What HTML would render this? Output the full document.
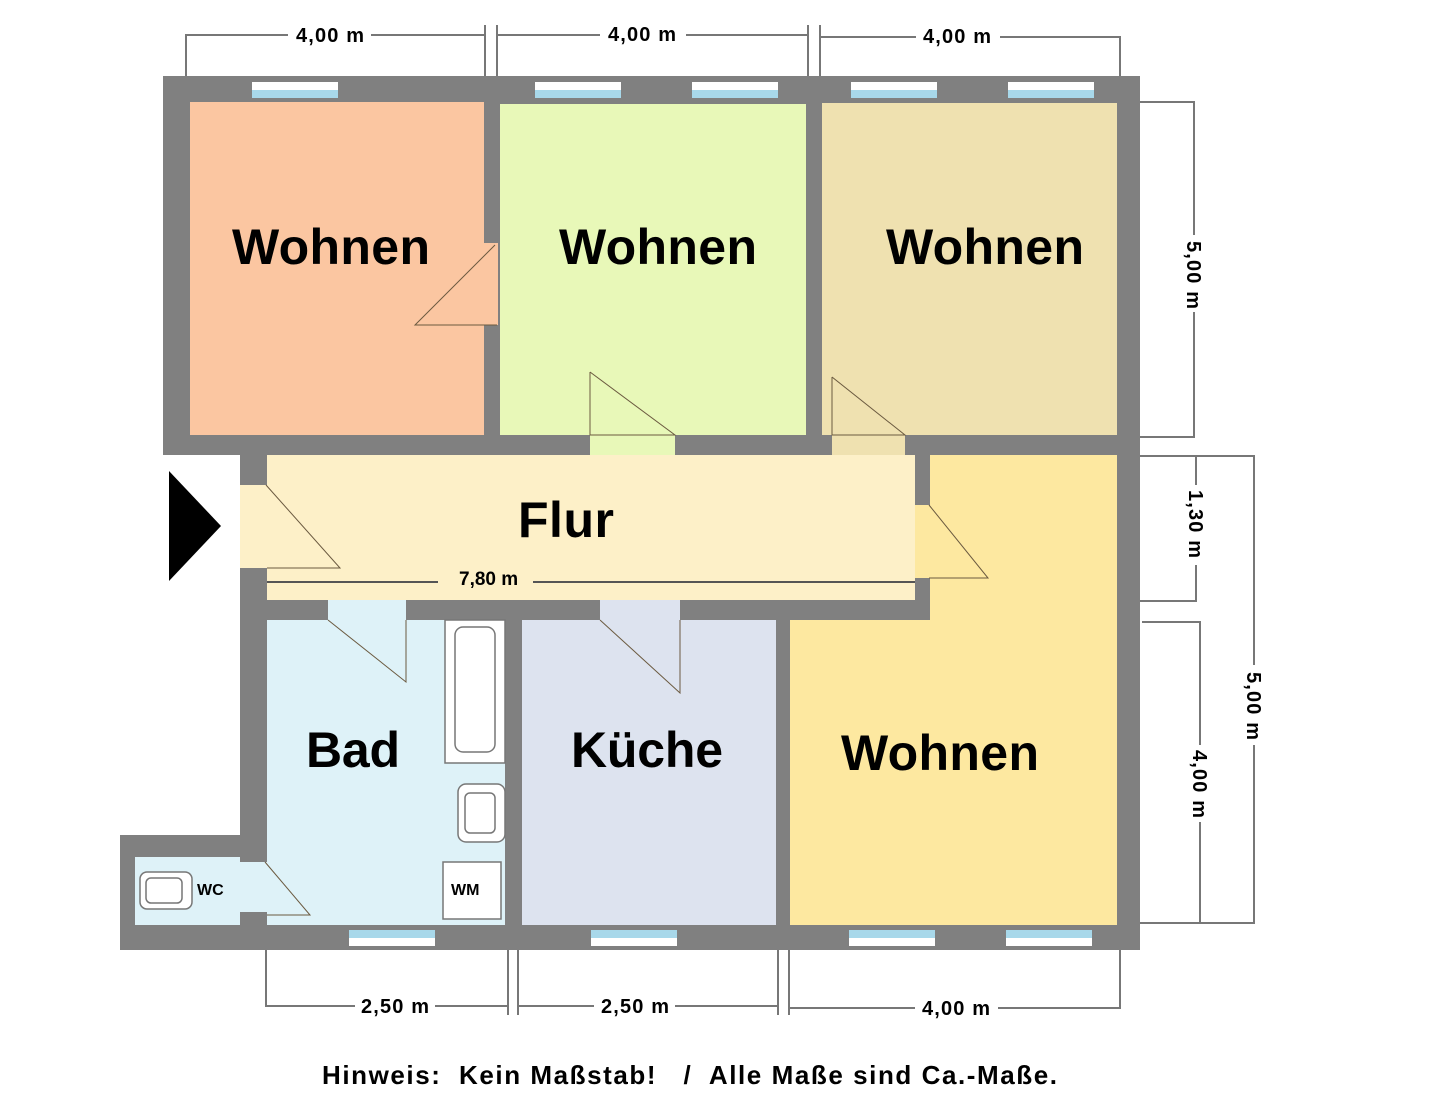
<!DOCTYPE html>
<html><head><meta charset="utf-8"><style>
html,body{margin:0;padding:0;background:#fff;}
svg{display:block;}
text{font-family:"Liberation Sans",Arial,sans-serif;font-weight:bold;fill:#000;}
</style></head><body>
<svg width="1440" height="1113" viewBox="0 0 1440 1113" xmlns="http://www.w3.org/2000/svg">
<g fill="#808080">
<rect x="163" y="76" width="977" height="379"/>
<rect x="240" y="455" width="27" height="30"/>
<rect x="240" y="568" width="700" height="52"/>
<rect x="240" y="568" width="27" height="382"/>
<rect x="120" y="835" width="147" height="115"/>
<rect x="240" y="600" width="900" height="350"/>
<rect x="1117" y="440" width="23" height="510"/>
<rect x="915" y="455" width="15" height="50"/>
</g>
<rect x="190" y="102" width="294" height="333" fill="#fbc6a1"/>
<rect x="500" y="104" width="306" height="331" fill="#e8f8b8"/>
<rect x="822" y="103" width="295" height="332" fill="#efe1b0"/>
<rect x="267" y="455" width="648" height="145" fill="#fdf0c8"/>
<rect x="240" y="485" width="27" height="83" fill="#fdf0c8"/>
<rect x="930" y="455" width="187" height="170" fill="#fde8a0"/>
<rect x="915" y="505" width="15" height="73" fill="#fde8a0"/>
<rect x="790" y="620" width="327" height="305" fill="#fde8a0"/>
<rect x="267" y="620" width="238" height="305" fill="#def2f8"/>
<rect x="522" y="620" width="254" height="305" fill="#dde3ef"/>
<rect x="135" y="857" width="105" height="68" fill="#def2f8"/>
<rect x="240" y="862" width="27" height="50" fill="#def2f8"/>
<rect x="484" y="243" width="14" height="82" fill="#fbc6a1"/>
<rect x="590" y="435" width="85" height="20" fill="#e8f8b8"/>
<rect x="832" y="435" width="73" height="20" fill="#efe1b0"/>
<rect x="328" y="600" width="78" height="20" fill="#def2f8"/>
<rect x="600" y="600" width="80" height="20" fill="#dde3ef"/>
<g stroke="#6b5a40" stroke-width="1" fill="none">
<polyline points="495,245 415,325 497,325"/>
<polyline points="590,372 590,435 675,435 590,372"/>
<polyline points="832,377 832,435 905,435 832,377"/>
<polyline points="266,485 340,568 267,568"/>
<polyline points="929,505 988,578 929,578"/>
<polyline points="328,620 406,682 406,620"/>
<polyline points="600,620 680,693 680,620"/>
<polyline points="265,862 310,915 267,915"/>
</g>
<line x1="267" y1="582" x2="438" y2="582" stroke="#555" stroke-width="2"/>
<line x1="533" y1="582" x2="915" y2="582" stroke="#555" stroke-width="2"/>
<text x="459" y="585" font-size="19">7,80 m</text>
<g>
<rect x="252" y="82" width="86" height="8" fill="#fff"/><rect x="252" y="90" width="86" height="8" fill="#a8d8ea"/>
<rect x="535" y="82" width="86" height="8" fill="#fff"/><rect x="535" y="90" width="86" height="8" fill="#a8d8ea"/>
<rect x="692" y="82" width="86" height="8" fill="#fff"/><rect x="692" y="90" width="86" height="8" fill="#a8d8ea"/>
<rect x="851" y="82" width="86" height="8" fill="#fff"/><rect x="851" y="90" width="86" height="8" fill="#a8d8ea"/>
<rect x="1008" y="82" width="86" height="8" fill="#fff"/><rect x="1008" y="90" width="86" height="8" fill="#a8d8ea"/>
<rect x="349" y="930" width="86" height="8" fill="#a8d8ea"/><rect x="349" y="938" width="86" height="8" fill="#fff"/>
<rect x="591" y="930" width="86" height="8" fill="#a8d8ea"/><rect x="591" y="938" width="86" height="8" fill="#fff"/>
<rect x="849" y="930" width="86" height="8" fill="#a8d8ea"/><rect x="849" y="938" width="86" height="8" fill="#fff"/>
<rect x="1006" y="930" width="86" height="8" fill="#a8d8ea"/><rect x="1006" y="938" width="86" height="8" fill="#fff"/>
</g>
<rect x="445" y="620" width="60" height="143" fill="#fff" stroke="#777" stroke-width="1.5"/>
<rect x="455" y="627" width="40" height="125" rx="8" fill="#fff" stroke="#777" stroke-width="1.5"/>
<rect x="458" y="784" width="47" height="58" rx="8" fill="#fff" stroke="#777" stroke-width="1.5"/>
<rect x="465" y="793" width="30" height="40" rx="5" fill="#fff" stroke="#777" stroke-width="1.5"/>
<rect x="443" y="862" width="58" height="57" fill="#fff" stroke="#777" stroke-width="1.5"/>
<text x="451" y="895" font-size="16">WM</text>
<rect x="140" y="872" width="52" height="37" rx="7" fill="#fff" stroke="#777" stroke-width="1.5"/>
<rect x="146" y="878" width="36" height="25" rx="5" fill="#fff" stroke="#777" stroke-width="1.5"/>
<text x="197" y="895" font-size="16">WC</text>
<polygon points="169,471 221,526 169,581" fill="#000"/>
<text x="232" y="264" font-size="50" textLength="198">Wohnen</text>
<text x="559" y="264" font-size="50" textLength="198">Wohnen</text>
<text x="886" y="264" font-size="50" textLength="198">Wohnen</text>
<text x="518" y="537" font-size="50" textLength="96">Flur</text>
<text x="306" y="767" font-size="50" textLength="94">Bad</text>
<text x="571" y="767" font-size="50" textLength="152">Küche</text>
<text x="841" y="770" font-size="50" textLength="198">Wohnen</text>
<g stroke="#777" stroke-width="2" fill="none">
<polyline points="186,76 186,35 288,35"/><polyline points="371,35 485,35"/>
<line x1="485" y1="25" x2="485" y2="76"/><line x1="497" y1="25" x2="497" y2="76"/>
<polyline points="497,35 600,35"/><polyline points="686,35 808,35"/>
<line x1="808" y1="25" x2="808" y2="76"/><line x1="820" y1="25" x2="820" y2="76"/>
<polyline points="820,37 916,37"/><polyline points="1000,37 1120,37 1120,76"/>
<polyline points="266,950 266,1006 355,1006"/><polyline points="435,1006 508,1006"/>
<line x1="508" y1="950" x2="508" y2="1015"/><line x1="518" y1="950" x2="518" y2="1015"/>
<polyline points="518,1006 594,1006"/><polyline points="675,1006 778,1006"/>
<line x1="778" y1="950" x2="778" y2="1015"/><line x1="789" y1="950" x2="789" y2="1015"/>
<polyline points="789,1008 915,1008"/><polyline points="998,1008 1120,1008 1120,950"/>
<polyline points="1140,102 1194,102 1194,235"/><polyline points="1194,312 1194,437 1140,437"/>
<polyline points="1140,456 1196,456 1196,485"/><polyline points="1196,565 1196,601 1140,601"/>
<polyline points="1140,456 1254,456 1254,665"/><polyline points="1254,745 1254,923 1140,923"/>
<polyline points="1142,622 1200,622 1200,745"/><polyline points="1200,822 1200,923"/>
</g>
<text x="296" y="42" font-size="20" textLength="68">4,00 m</text>
<text x="608" y="41" font-size="20" textLength="68">4,00 m</text>
<text x="923" y="43" font-size="20" textLength="68">4,00 m</text>
<text x="361" y="1013" font-size="20" textLength="68">2,50 m</text>
<text x="601" y="1013" font-size="20" textLength="68">2,50 m</text>
<text x="922" y="1015" font-size="20" textLength="68">4,00 m</text>
<text transform="translate(1187,241) rotate(90)" font-size="20" textLength="68">5,00 m</text>
<text transform="translate(1189,490) rotate(90)" font-size="20" textLength="68">1,30 m</text>
<text transform="translate(1247,672) rotate(90)" font-size="20" textLength="68">5,00 m</text>
<text transform="translate(1193,750) rotate(90)" font-size="20" textLength="68">4,00 m</text>
<text x="322" y="1084" font-size="26" textLength="735" xml:space="preserve">Hinweis:  Kein Maßstab!   /  Alle Maße sind Ca.-Maße.</text>
</svg>
</body></html>
